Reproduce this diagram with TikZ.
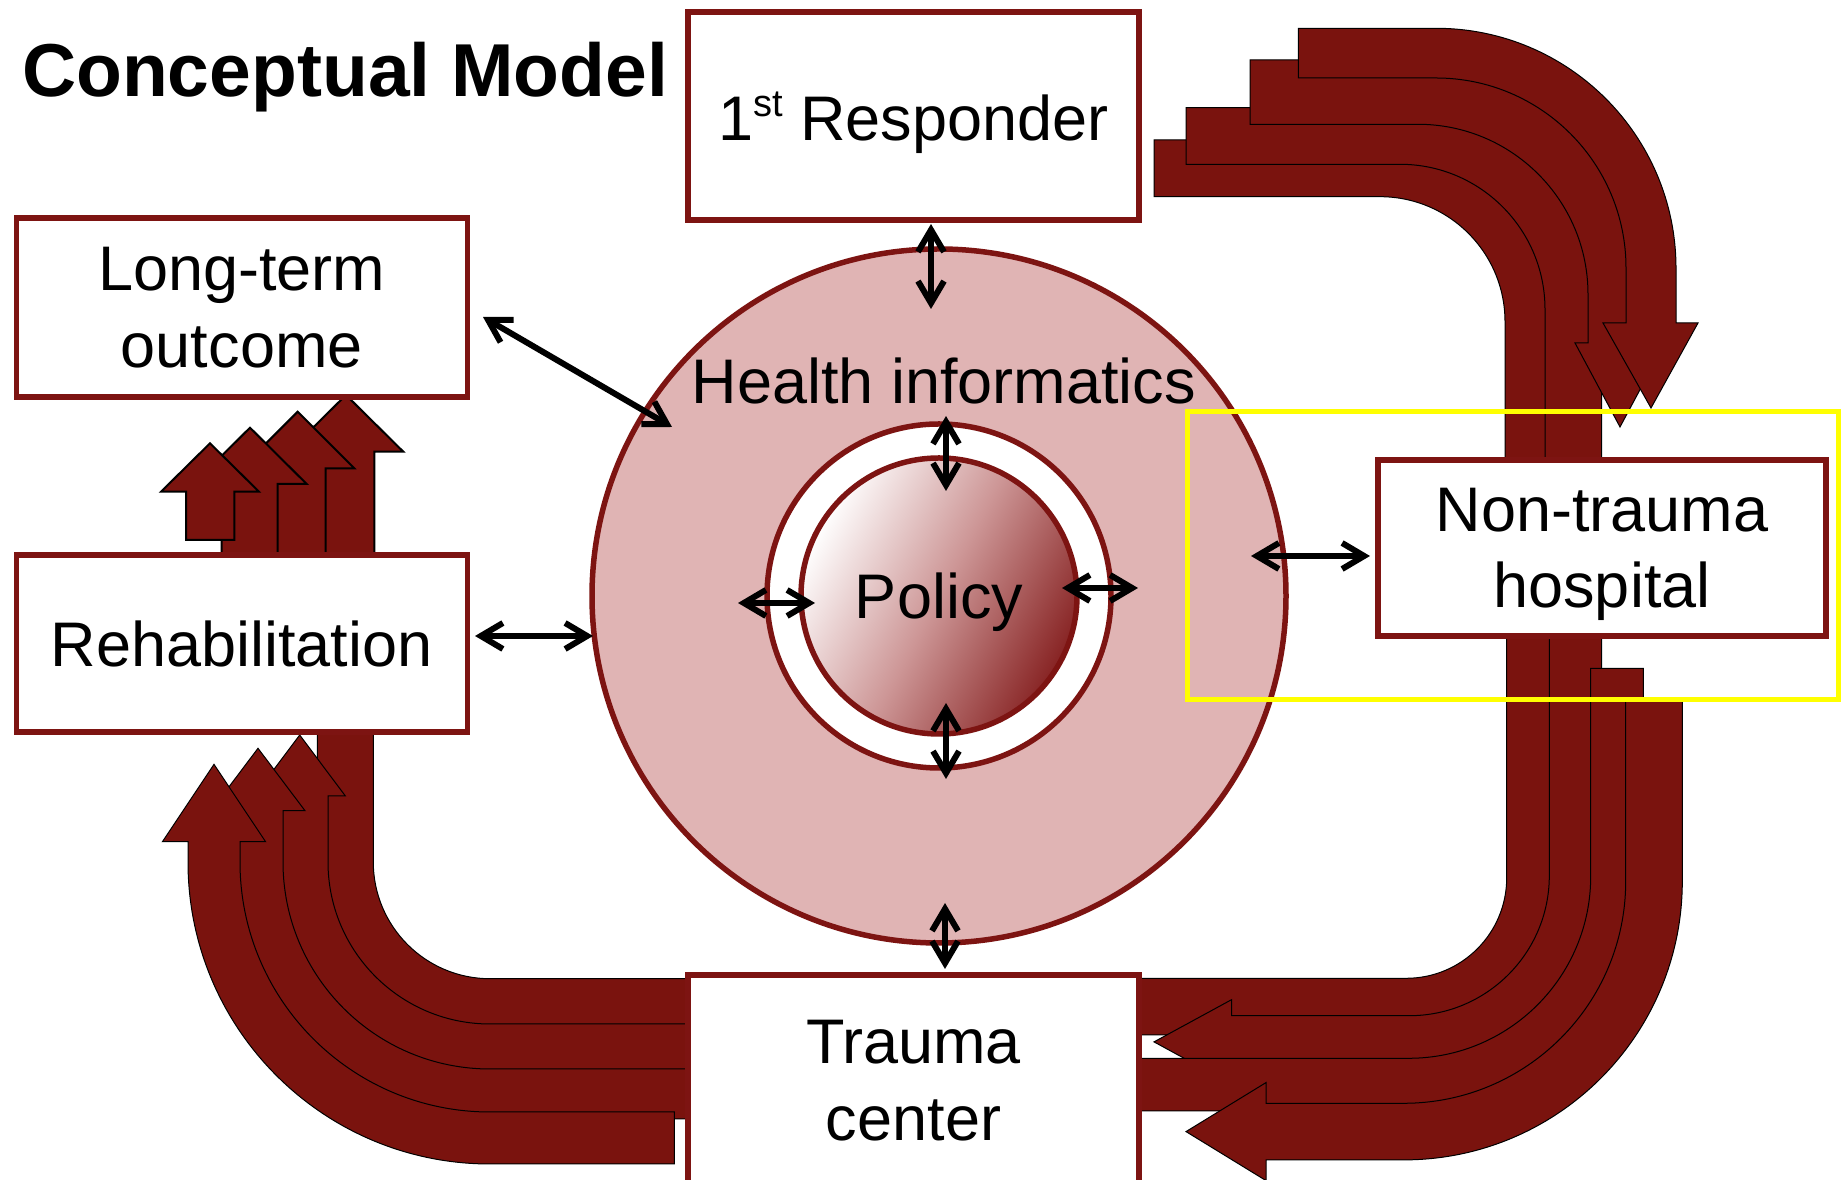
\documentclass[tikz,border=0pt]{standalone}
\usepackage{fontspec}
\setmainfont{Liberation Sans}
\usetikzlibrary{arrows.meta}
\definecolor{arrred}{RGB}{122,19,14}
\definecolor{bord}{RGB}{125,20,18}
\definecolor{hatch}{RGB}{224,180,180}
\definecolor{poldark}{RGB}{135,35,35}
\definecolor{polmid}{RGB}{205,150,150}
\definecolor{hlyellow}{RGB}{255,255,0}
\begin{document}
\begin{tikzpicture}[x=1pt,y=1pt,
  bigarrow/.style={fill=arrred, draw=black, line width=1pt},
  smallarrow/.style={fill=arrred, draw=black, line width=2pt},
  box/.style={draw=bord, line width=5.5pt, fill=white, inner sep=0pt, align=center,
    text depth=0pt, font=\fontsize{63}{76.6}\selectfont},
  dbl/.style={{Straight Barb[length=22pt,width=26pt]}-{Straight Barb[length=22pt,width=26pt]}, line width=6pt, line cap=round, black},
  ring/.style={circle, inner sep=0pt, draw=bord, line width=5.5pt}
]
\useasboundingbox (0,0) rectangle (1848,1180);
\fill[white] (0,0) rectangle (1848,1180);

% ---- top-right group (1st Responder -> Non-trauma hospital)
\draw[bigarrow] (1154,1040) -- (1380,1040) arc[start angle=90,end angle=0,radius=181.7pt] -- (1561.7,660) -- (1584,660) -- (1533.3,580) -- (1482.7,660) -- (1505,660) -- (1505,858.3) arc[start angle=0,end angle=90,radius=125pt] -- (1154,983.3) -- cycle;
\draw[bigarrow] (1186,1072.3) -- (1400,1072.3) arc[start angle=90,end angle=0,radius=201.7pt] -- (1601.7,680) -- (1624,680) -- (1573.3,600) -- (1522.7,680) -- (1545,680) -- (1545,870.7) arc[start angle=0,end angle=90,radius=145pt] -- (1186,1015.7) -- cycle;
\draw[bigarrow] (1250,1120) -- (1418,1120) arc[start angle=90,end angle=0,radius=234pt] -- (1652,837) -- (1665,837) -- (1620,753) -- (1575,837) -- (1588,837) -- (1588,885.7) arc[start angle=0,end angle=90,radius=170pt] -- (1250,1055.7) -- cycle;
\draw[bigarrow] (1298.3,1151.7) -- (1436,1151.7) arc[start angle=90,end angle=0,radius=240pt] -- (1676,857) -- (1698,857) -- (1651,772) -- (1603,857) -- (1626,857) -- (1626,912) arc[start angle=0,end angle=90,radius=190pt] -- (1298.3,1102) -- cycle;

% ---- bottom-right group (Non-trauma hospital -> Trauma center)
\draw[bigarrow] (1506.7,620) -- (1506.7,302.2) arc[start angle=0,end angle=-90,radius=100.5pt] -- (1100,201.7) -- (1100,145) -- (1406.2,145) arc[start angle=-90,end angle=0,radius=157.2pt] -- (1563.4,620) -- cycle;
\draw[bigarrow] (1549.3,620) -- (1549.3,304.3) arc[start angle=0,end angle=-90,radius=140pt] -- (1231.7,164.3) -- (1231.7,180.4) -- (1154,138.1) -- (1231.7,95.8) -- (1231.7,111.9) -- (1409.3,111.9) arc[start angle=-90,end angle=0,radius=192.4pt] -- (1601.7,620) -- cycle;
\draw[bigarrow] (1590.7,511.7) -- (1590.7,303.7) arc[start angle=0,end angle=-90,radius=182pt] -- (1100,121.7) -- (1100,69.1) -- (1408.7,69.1) arc[start angle=-90,end angle=0,radius=234.6pt] -- (1643.3,511.7) -- cycle;
\draw[bigarrow] (1625.7,480) -- (1625.7,298.7) arc[start angle=0,end angle=-90,radius=222pt] -- (1266,76.7) -- (1266,97.4) -- (1186,48.4) -- (1266,-0.6) -- (1266,20.1) -- (1403.7,20.1) arc[start angle=-90,end angle=0,radius=278.6pt] -- (1682.3,480) -- cycle;

% ---- bottom-left group (Trauma center -> Rehabilitation)
\draw[bigarrow] (720,201.3) -- (490,201.3) arc[start angle=-90,end angle=-180,radius=116.7pt] -- (373.3,480) -- (317.3,480) -- (317.3,318) arc[start angle=180,end angle=270,radius=172.7pt] -- (720,145.3) -- cycle;
\draw[bigarrow] (720,156) -- (490,156) arc[start angle=-90,end angle=-180,radius=162pt] -- (328,384) -- (345.4,384) -- (299.7,445) -- (254,384) -- (271.3,384) -- (271.3,318) arc[start angle=180,end angle=270,radius=218.7pt] -- (720,99.3) -- cycle;
\draw[bigarrow] (720,111) -- (490,111) arc[start angle=-90,end angle=-180,radius=207pt] -- (283,369.3) -- (305,369.3) -- (258,431.7) -- (211,369.3) -- (233,369.3) -- (233,318) arc[start angle=180,end angle=270,radius=257pt] -- (720,61) -- cycle;
\draw[bigarrow] (674.3,68) -- (490,68) arc[start angle=-90,end angle=-180,radius=250pt] -- (240,338.3) -- (265.6,338.3) -- (214,415.7) -- (162.4,338.3) -- (188,338.3) -- (188,318) arc[start angle=180,end angle=270,radius=302pt] -- (674.3,16) -- cycle;

% ---- small rising arrows (Rehabilitation -> Long-term outcome)
\draw[smallarrow] (317.7,610) -- (317.7,728.3) -- (288.7,728.3) -- (346,785) -- (403.3,728.3) -- (374.3,728.3) -- (374.3,610) -- cycle;
\draw[smallarrow] (269.7,610) -- (269.7,711.7) -- (241.1,711.7) -- (297.7,768.3) -- (354.3,711.7) -- (325.7,711.7) -- (325.7,610) -- cycle;
\draw[smallarrow] (221.7,610) -- (221.7,696) -- (193.3,696) -- (250,752.3) -- (306.7,696) -- (277.7,696) -- (277.7,610) -- cycle;
\draw[smallarrow] (186,640) -- (186,688.3) -- (161,688.3) -- (210,736.7) -- (259,688.3) -- (234.3,688.3) -- (234.3,640) -- cycle;

% ---- circles
\node[ring, minimum size=694pt, fill=hatch] (outer) at (939,584) {};
\node[ring, minimum size=344pt, fill=white] (wring) at (939,584) {};
\node[ring, minimum size=276pt, top color=white, bottom color=poldark, middle color=polmid,
  shading angle=62, text depth=0pt, font=\fontsize{63}{76.6}\selectfont] (pol) at (939,584) {Policy};
\node[anchor=base, font=\fontsize{63}{76.6}\selectfont, inner sep=0pt] (hi) at (943.6,776.5) {Health informatics};

% ---- boxes
\node[box, minimum width=451pt, minimum height=208pt] (resp) at (913.5,1064) {1\raisebox{24pt}{\fontsize{38}{38}\selectfont st} Responder};
\node[box, minimum width=451pt, minimum height=179pt] (lto) at (241.75,872.5) {Long-term\\outcome};
\node[box, minimum width=451pt, minimum height=177pt] (rehab) at (241.75,536.5) {Rehabilitation};
\node[box, minimum width=448pt, minimum height=176pt] (ntr) at (1602,632) {Non-trauma\\hospital};
\node[box, minimum width=451pt, minimum height=211pt] (tc) at (913.5,99.5) {Trauma\\center};

% ---- double arrows
\coordinate (r1) at (931,956);   \coordinate (r2) at (931,871);
\coordinate (l1) at (483,863);   \coordinate (l2) at (672,753);
\coordinate (h1) at (475,544);   \coordinate (h2) at (593,544);
\coordinate (n1) at (1251,624);  \coordinate (n2) at (1370,624);
\coordinate (t1) at (945,277);   \coordinate (t2) at (945,211);
\coordinate (it1) at (946,764);  \coordinate (it2) at (946,689);
\coordinate (ib1) at (946,477);  \coordinate (ib2) at (946,401);
\coordinate (il1) at (738,577);  \coordinate (il2) at (815,577);
\coordinate (ir1) at (1062,592); \coordinate (ir2) at (1138,592);
\draw[dbl] (r1) -- (r2);
\draw[dbl] (l1) -- (l2);
\draw[dbl] (h1) -- (h2);
\draw[dbl] (n1) -- (n2);
\draw[dbl] (t1) -- (t2);
\draw[dbl] (it1) -- (it2);
\draw[dbl] (ib1) -- (ib2);
\draw[dbl] (il1) -- (il2);
\draw[dbl] (ir1) -- (ir2);

% ---- yellow highlight
\node[draw=hlyellow, line width=5pt, inner sep=0pt, minimum width=651pt, minimum height=288pt] (hl) at (1512.5,624) {};

% ---- title
\node[anchor=base west, inner sep=0pt, font=\fontsize{75}{80}\selectfont\bfseries] (title) at (22,1083) {Conceptual Model};
\end{tikzpicture}
\end{document}
